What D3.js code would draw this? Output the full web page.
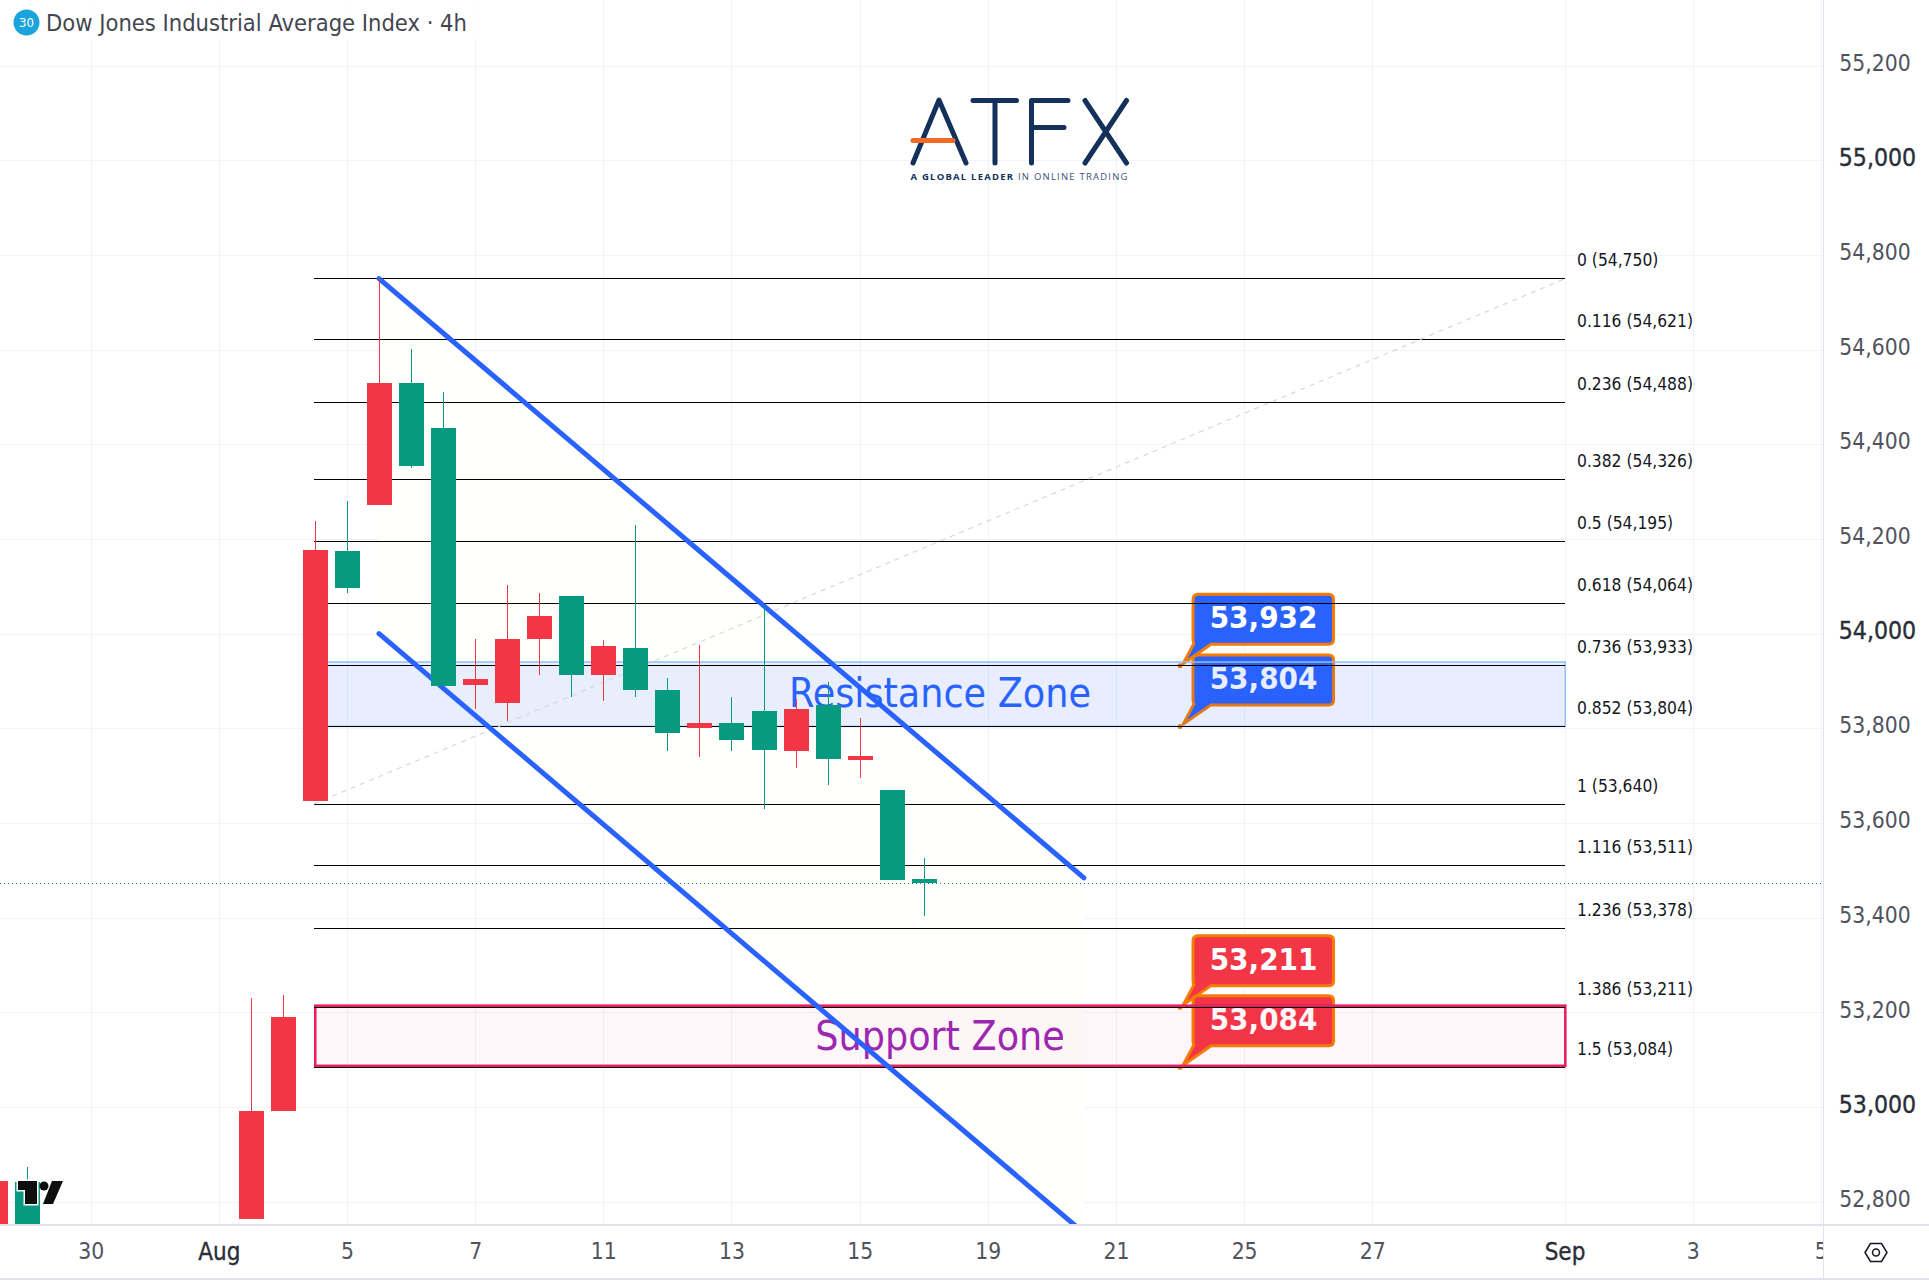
<!DOCTYPE html>
<html><head><meta charset="utf-8">
<script src="https://cdn.jsdelivr.net/npm/d3@7/dist/d3.min.js"></script>
<style>
html,body{margin:0;padding:0;background:#fff}
svg{display:block}
text{font-family:"DejaVu Sans Condensed","DejaVu Sans",sans-serif}
</style></head><body>
<svg id="c" width="1929" height="1287"></svg>
<script>
const title = "Dow Jones Industrial Average Index · 4h";
const candleIndex = [-1,0,7,8,9,10,11,12,13,14,15,16,17,18,19,20,21,22,23,24,25,26,27,28];
const opens  = [52600,52841,52764,52991,53647,54174,54272,54529,54434,53891,53853,53989,54079,53912,53970,53881,53801,53811,53836,53752,53849,53733,53670,53482];
const closes = [52844,52600,52991,53190,54176,54096,54529,54354,53889,53904,53989,54037,53912,53974,53881,53790,53811,53775,53754,53841,53735,53741,53479,53473];
const highs  = [52844,52873,53230,53236,54238,54280,54750,54601,54510,53989,54103,54086,54079,53986,54229,53906,53976,53866,54056,53862,53898,53822,53670,53527];
const lows   = [52600,52600,52764,52991,53647,54086,54272,54350,53889,53841,53815,53912,53866,53858,53866,53752,53739,53752,53629,53716,53680,53695,53479,53403];
const priceTicks = [55200,55000,54800,54600,54400,54200,54000,53800,53600,53400,53200,53000,52800];
const majorPrices = [55000,54000,53000];
const timeTickIndex = [2,6,10,14,18,22,26,30,34,38,42,48,52,56];
const timeTickLabels = ["30","Aug","5","7","11","13","15","19","21","25","27","Sep","3","5"];
const majorTimes = ["Aug","Sep"];
const fibRatios = ["0","0.116","0.236","0.382","0.5","0.618","0.736","0.852","1","1.116","1.236","1.386","1.5"];
const fibPrices = [54750,54621,54488,54326,54195,54064,53933,53804,53640,53511,53378,53211,53084];
const calloutPrices = [53932,53804,53211,53084];
const calloutColors = ["#2962ff","#2962ff","#f23645","#f23645"];
const lastPrice = 53473;
const resistanceZone = [53940,53804];
const supportZone = [53214,53087];
const channelUpper = [[11,54750],[33,53484]];
const channelLower = [[11,54000],[33,52734]];
const fibIndexRange = [9,48];

const W=1929,H=1287,axisX=1823.5,axisY=1225,bottomY=1279;
const x=d3.scaleLinear().domain([0,56]).range([26.6,26.6+56*32.04]);
const y=d3.scaleLinear().domain([52800,55200]).range([1201.7,65.5]);
const fmt=d3.format(",");
const svg=d3.select("#c");
const defs=svg.append("defs");
defs.append("clipPath").attr("id","plot").append("rect").attr("x",0).attr("y",0).attr("width",axisX).attr("height",axisY);
defs.append("clipPath").attr("id","timeclip").append("rect").attr("x",0).attr("y",axisY).attr("width",axisX).attr("height",bottomY-axisY);

// grid
const grid=svg.append("g").attr("stroke","#f0f3fa").attr("stroke-width",1).attr("shape-rendering","crispEdges");
grid.selectAll(".h").data(priceTicks).join("line").attr("x1",0).attr("x2",axisX).attr("y1",d=>Math.round(y(d))+.5).attr("y2",d=>Math.round(y(d))+.5);
grid.selectAll(".v").data(timeTickIndex).join("line").attr("y1",0).attr("y2",axisY).attr("x1",d=>Math.round(x(d))+.5).attr("x2",d=>Math.round(x(d))+.5);

// title backdrop
svg.append("rect").attr("x",0).attr("y",0).attr("width",478).attr("height",40).attr("fill","#fff").attr("fill-opacity",.8);

const plot=svg.append("g").attr("clip-path","url(#plot)");
const X0=x(fibIndexRange[0])-1.2,X1=x(fibIndexRange[1])+.8;

// channel fill
plot.append("path").attr("fill","#fffffc")
 .attr("d",d3.line()([channelUpper[0],channelUpper[1],channelLower[1],channelLower[0]].map(p=>[x(p[0]),y(p[1])]))+"Z");

// callouts (sit beneath the zones)
const co=plot.append("g");
calloutPrices.forEach((p,i)=>{
  const tx=x(36),ty=y(p),l=tx+13,r=tx+153.5,b=ty-21.5,t=b-50,rad=5;
  const d=`M${l+rad},${t}H${r-rad}Q${r},${t} ${r},${t+rad}V${b-rad}Q${r},${b} ${r-rad},${b}H${l+18}L${tx+3},${ty-2}L${l+1},${b-1}Q${l},${b-2} ${l},${b-rad}V${t+rad}Q${l},${t} ${l+rad},${t}Z`;
  co.append("path").attr("d",d).attr("fill",calloutColors[i]).attr("stroke","#f57c00").attr("stroke-width",3).attr("stroke-linejoin","round");
  co.append("circle").attr("cx",tx).attr("cy",ty).attr("r",2.5).attr("fill","#f57c00");
  co.append("text").attr("x",tx+83.5).attr("y",t+23).attr("dy","0.36em").attr("text-anchor","middle").attr("fill","#fff").attr("font-size",31).attr("font-weight",700).text(fmt(p));
});

// zones
plot.append("rect").attr("x",X0).attr("width",X1-X0).attr("y",y(resistanceZone[0])).attr("height",y(resistanceZone[1])-y(resistanceZone[0]))
 .attr("fill","#2962ff").attr("fill-opacity",.11).attr("stroke","#90bff9").attr("stroke-width",1.5);
plot.append("rect").attr("x",X0+1.5).attr("width",X1-X0-1.5).attr("y",y(supportZone[0])).attr("height",y(supportZone[1])-y(supportZone[0]))
 .attr("fill","#e91e63").attr("fill-opacity",.04).attr("stroke","#e91e63").attr("stroke-width",2.6);

// fib lines
plot.selectAll(".fib").data(fibPrices).join("line").attr("x1",X0).attr("x2",X1)
 .attr("y1",d=>Math.floor(y(d))+.5).attr("y2",d=>Math.floor(y(d))+.5)
 .attr("stroke","#000").attr("stroke-width",1.3).attr("shape-rendering","crispEdges");
// fib trend
plot.append("line").attr("x1",X0).attr("x2",X1).attr("y1",y(fibPrices[8])).attr("y2",y(fibPrices[0]))
 .attr("stroke","#d8d8d8").attr("stroke-width",1.2).attr("stroke-dasharray","5,5");
// fib labels
plot.selectAll(".fl").data(fibPrices).join("text").attr("x",1577).attr("y",d=>y(d)-18.5).attr("dy","0.36em")
 .attr("font-size",17.3).attr("fill","#131722").text((d,i)=>`${fibRatios[i]} (${fmt(d)})`);

// zone text
plot.append("text").attr("x",940).attr("y",692).attr("dy","0.36em").attr("text-anchor","middle").attr("fill","#2962ff").attr("font-size",40.7).text("Resistance Zone");
plot.append("text").attr("x",940).attr("y",1035).attr("dy","0.36em").attr("text-anchor","middle").attr("fill","#9c27b0").attr("font-size",40.7).text("Support Zone");

// channel lines
[channelUpper,channelLower].forEach(c=>{
 plot.append("line").attr("x1",x(c[0][0])).attr("y1",y(c[0][1])).attr("x2",x(c[1][0])).attr("y2",y(c[1][1]))
  .attr("stroke","#2962ff").attr("stroke-width",5).attr("stroke-linecap","round");
});

// last price
svg.append("line").attr("x1",0).attr("x2",axisX).attr("y1",Math.round(y(lastPrice))+.5).attr("y2",Math.round(y(lastPrice))+.5)
 .attr("stroke","#089981").attr("stroke-width",1).attr("stroke-dasharray","1,3");

// candles
const cs=candleIndex.map((k,i)=>({k,o:opens[i],c:closes[i],h:highs[i],l:lows[i]}));
const col=d=>d.c>=d.o?"#f23645":"#089981";
const cg=plot.append("g").attr("shape-rendering","crispEdges");
cg.selectAll(".w").data(cs).join("line").attr("x1",d=>Math.round(x(d.k))+.5).attr("x2",d=>Math.round(x(d.k))+.5)
 .attr("y1",d=>y(d.h)).attr("y2",d=>y(d.l)).attr("stroke",col);
cg.selectAll(".b").data(cs).join("rect").attr("x",d=>Math.round(x(d.k))-12).attr("width",25)
 .attr("y",d=>y(Math.max(d.o,d.c))).attr("height",d=>Math.max(2,Math.abs(y(d.o)-y(d.c)))).attr("fill",col);

// ATFX logo
const logo=svg.append("g").attr("fill","none").attr("stroke","#14315c").attr("stroke-width",5).attr("stroke-linecap","round").attr("stroke-linejoin","round");
["M913,163L939,100L966,163","M973,100.5H1016.5M995,100.5V163","M1031.5,163V100.5H1068M1031.5,127.5H1064","M1085,100.5L1126.5,163M1126.5,100.5L1085,163"]
 .forEach(d=>logo.append("path").attr("d",d));
svg.append("line").attr("x1",913).attr("x2",953).attr("y1",140.5).attr("y2",140.5).attr("stroke","#f26a25").attr("stroke-width",5).attr("stroke-linecap","round");
const tag=svg.append("text").attr("x",910.5).attr("y",177).attr("dy","0.36em").attr("font-size",9.5).attr("fill","#14315c").style("font-family","'Open Sans',sans-serif").attr("letter-spacing",1.22);
tag.append("tspan").attr("font-weight",700).text("A GLOBAL LEADER ");
tag.append("tspan").attr("fill","#3a5478").text("IN ONLINE TRADING");

// TradingView mark
const tv=svg.append("g");
tv.append("path").attr("d","M18,1181H37V1204H25V1190H18Z M52,1181H63L53,1204H43Z").attr("fill","#0f0f0f").attr("stroke","#fff").attr("stroke-width",3).attr("paint-order","stroke");
tv.append("circle").attr("cx",44).attr("cy",1186).attr("r",4.5).attr("fill","#0f0f0f");

// title
svg.append("circle").attr("cx",26.5).attr("cy",22.5).attr("r",13).attr("fill","#1ba3dc");
svg.append("text").attr("x",26.5).attr("y",22.5).attr("dy","0.36em").attr("text-anchor","middle").attr("fill","#fff").attr("font-size",13).text("30");
svg.append("text").attr("x",46).attr("y",22.5).attr("dy","0.36em").attr("font-size",23.5).attr("fill","#434651").text(title);

// axes
const yAxis=d3.axisRight(y).tickValues(priceTicks).tickFormat(fmt).tickSize(0).tickPadding(0);
const ya=svg.append("g").attr("transform",`translate(1875,0)`).call(yAxis);
ya.select(".domain").remove();
ya.selectAll("text").attr("text-anchor","middle").attr("y",-3.5).attr("dy","0.36em")
 .attr("font-size",d=>majorPrices.includes(d)?24.6:22.7)
 .attr("x",d=>majorPrices.includes(d)?2.5:0)
 .attr("fill",d=>majorPrices.includes(d)?"#2a2e39":"#50535e")
 .attr("stroke",d=>majorPrices.includes(d)?"#2a2e39":"none").attr("stroke-width",.35)
 .style("font-family",'"DejaVu Sans Condensed","DejaVu Sans",sans-serif');
const labelOf=new Map(timeTickIndex.map((k,i)=>[k,timeTickLabels[i]]));
const xAxis=d3.axisBottom(x).tickValues(timeTickIndex).tickFormat(k=>labelOf.get(k)).tickSize(0).tickPadding(0);
const xaInner=svg.append("g").attr("clip-path","url(#timeclip)").append("g").attr("transform",`translate(0,${axisY})`).call(xAxis);
xaInner.select(".domain").remove();
xaInner.selectAll("text").attr("y",26).attr("dy","0.36em")
 .attr("font-size",k=>majorTimes.includes(labelOf.get(k))?24:22.7)
 .attr("fill",k=>majorTimes.includes(labelOf.get(k))?"#2a2e39":"#50535e")
 .attr("stroke",k=>majorTimes.includes(labelOf.get(k))?"#2a2e39":"none").attr("stroke-width",.35)
 .style("font-family",'"DejaVu Sans Condensed","DejaVu Sans",sans-serif');

// axis frame
const fr=svg.append("g").attr("stroke","#e0e3eb").attr("stroke-width",1.5).attr("shape-rendering","crispEdges");
fr.append("line").attr("x1",0).attr("x2",W).attr("y1",axisY).attr("y2",axisY);
fr.append("line").attr("x1",0).attr("x2",W).attr("y1",bottomY).attr("y2",bottomY);
fr.append("line").attr("x1",axisX).attr("x2",axisX).attr("y1",0).attr("y2",bottomY);

// settings icon
svg.append("path").attr("d","M1865,1252.5l5.5,-9h11l5.5,9l-5.5,9h-11Z").attr("fill","none").attr("stroke","#131722").attr("stroke-width",1.5);
svg.append("circle").attr("cx",1876).attr("cy",1252.5).attr("r",3.5).attr("fill","none").attr("stroke","#131722").attr("stroke-width",1.5);
</script></body></html>
